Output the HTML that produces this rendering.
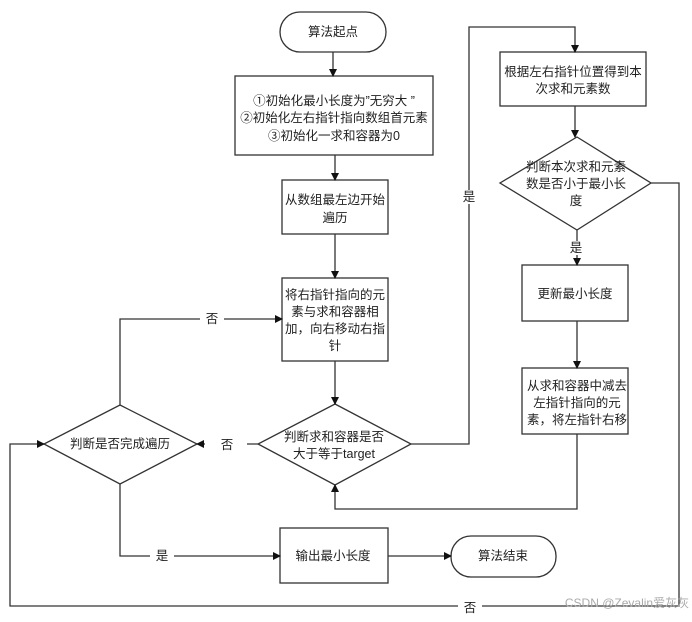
<!DOCTYPE html>
<html><head><meta charset="utf-8"><style>
html,body{margin:0;padding:0;background:#fff;}
svg text{font-family:"Liberation Sans","Noto Sans CJK SC",sans-serif;font-size:12.5px;fill:#222;text-anchor:middle;}
</style></head><body>
<svg width="692" height="617" viewBox="0 0 692 617" xmlns="http://www.w3.org/2000/svg">
<defs><marker id="a" markerWidth="8" markerHeight="8" refX="7" refY="4" orient="auto" markerUnits="userSpaceOnUse"><path d="M0,0 L8,4 L0,8 z" fill="#111"/></marker></defs>
<g fill="none" stroke="#333" stroke-width="1.3">
<rect x="280" y="12" width="106" height="40" rx="20"/>
<rect x="235" y="76" width="198" height="79"/>
<rect x="282" y="180" width="106" height="54"/>
<rect x="282" y="278" width="106" height="83"/>
<rect x="500" y="52" width="146" height="54"/>
<polygon points="577,137 651,183 577,230 500,183"/>
<rect x="522" y="265" width="106" height="56"/>
<rect x="522" y="368" width="106" height="66"/>
<polygon points="335,404 411,444 335,485 258,444"/>
<polygon points="120,405 197,444 120,484 44,444"/>
<rect x="280" y="528" width="108" height="55"/>
<rect x="451" y="536" width="105" height="41" rx="20"/>
<g marker-end="url(#a)">
<line x1="333" y1="52" x2="333" y2="76"/>
<line x1="335" y1="155" x2="335" y2="180"/>
<line x1="335" y1="234" x2="335" y2="278"/>
<line x1="335" y1="361" x2="335" y2="404"/>
<polyline points="411,444 469,444 469,27 575,27 575,52"/>
<line x1="575" y1="106" x2="575" y2="137"/>
<line x1="577" y1="230" x2="577" y2="265"/>
<line x1="577" y1="321" x2="577" y2="368"/>
<polyline points="577,434 577,509 335,509 335,485"/>
<line x1="258" y1="444" x2="197" y2="444"/>
<polyline points="120,405 120,319 282,319"/>
<polyline points="120,484 120,556 280,556"/>
<line x1="388" y1="556" x2="451" y2="556"/>
<polyline points="651,183 679,183 679,606 10,606 10,444 44,444"/>
</g>
</g>
<g fill="#fff"><rect x="205" y="438" width="42" height="14"/><rect x="200" y="312" width="24" height="14"/><rect x="150" y="549" width="24" height="14"/><rect x="458" y="190" width="22" height="14"/><rect x="566" y="241" width="22" height="14"/><rect x="458" y="600" width="24" height="14"/></g>
<text x="333" y="36">算法起点</text>
<text x="334" y="105">①初始化最小长度为”无穷大 ”</text>
<text x="334" y="122">②初始化左右指针指向数组首元素</text>
<text x="334" y="140">③初始化一求和容器为0</text>
<text x="335" y="204">从数组最左边开始</text>
<text x="335" y="222">遍历</text>
<text x="335" y="299">将右指针指向的元</text>
<text x="335" y="316">素与求和容器相</text>
<text x="335" y="333">加，向右移动右指</text>
<text x="335" y="350">针</text>
<text x="573" y="76">根据左右指针位置得到本</text>
<text x="573" y="93">次求和元素数</text>
<text x="576" y="171">判断本次求和元素</text>
<text x="576" y="188">数是否小于最小长</text>
<text x="576" y="205">度</text>
<text x="575" y="298">更新最小长度</text>
<text x="577" y="390">从求和容器中减去</text>
<text x="577" y="407">左指针指向的元</text>
<text x="577" y="424">素，将左指针右移</text>
<text x="334" y="441">判断求和容器是否</text>
<text x="334" y="458">大于等于target</text>
<text x="120" y="448">判断是否完成遍历</text>
<text x="333" y="560">输出最小长度</text>
<text x="503" y="560">算法结束</text>
<text x="227" y="449">否</text>
<text x="212" y="323">否</text>
<text x="162" y="560">是</text>
<text x="469" y="201">是</text>
<text x="576" y="252">是</text>
<text x="470" y="612">否</text>
<text x="627" y="607" style="fill:#aaa;font-size:12px">CSDN @Zevalin爱灰灰</text>
</svg>
</body></html>
